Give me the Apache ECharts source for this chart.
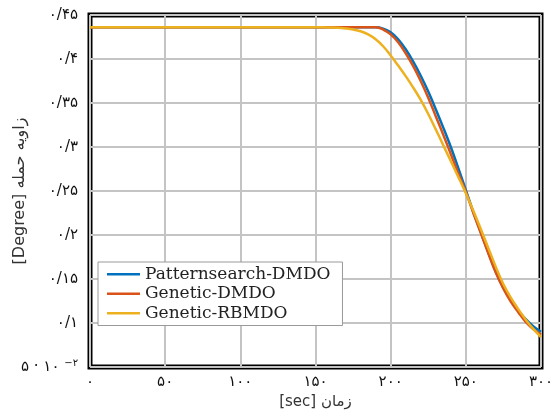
<!DOCTYPE html>
<html>
<head>
<meta charset="utf-8">
<script src="https://cdn.jsdelivr.net/npm/echarts@6/dist/echarts.min.js"></script>
<style>
  html, body { margin: 0; padding: 0; background: #fff; }
  #chart { width: 556px; height: 416px; }
</style>
</head>
<body>
<div id="chart"></div>
<script>
// Time samples [sec]
var times = [0, 5, 10, 15, 20, 25, 30, 35, 40, 45, 50, 55, 60, 65, 70, 75, 80, 85, 90, 95,
  100, 105, 110, 115, 120, 125, 130, 135, 140, 145, 150, 155, 160, 165, 170, 175, 180, 185, 190, 195,
  200, 205, 210, 215, 220, 225, 230, 235, 240, 245, 250, 255, 260, 265, 270, 275, 280, 285, 290, 295, 300];

// Angle of attack [Degree]
var patternsearchDMDO = [0.436, 0.436, 0.436, 0.436, 0.436, 0.436, 0.436, 0.436, 0.436, 0.436,
  0.436, 0.436, 0.436, 0.436, 0.436, 0.436, 0.436, 0.436, 0.436, 0.436,
  0.436, 0.436, 0.436, 0.436, 0.436, 0.436, 0.436, 0.436, 0.436, 0.436,
  0.436, 0.436, 0.436, 0.436, 0.436, 0.436, 0.436, 0.436, 0.436, 0.4345,
  0.4305, 0.4225, 0.411, 0.397, 0.381, 0.363, 0.343, 0.322, 0.300, 0.276,
  0.251, 0.226, 0.203, 0.180, 0.158, 0.140, 0.126, 0.114, 0.104, 0.096, 0.090];

var geneticDMDO = [0.436, 0.436, 0.436, 0.436, 0.436, 0.436, 0.436, 0.436, 0.436, 0.436,
  0.436, 0.436, 0.436, 0.436, 0.436, 0.436, 0.436, 0.436, 0.436, 0.436,
  0.436, 0.436, 0.436, 0.436, 0.436, 0.436, 0.436, 0.436, 0.436, 0.436,
  0.436, 0.436, 0.436, 0.436, 0.436, 0.436, 0.436, 0.436, 0.436, 0.4335,
  0.428, 0.419, 0.4065, 0.392, 0.375, 0.356, 0.335, 0.314, 0.292, 0.270,
  0.249, 0.225, 0.202, 0.179, 0.157, 0.139, 0.124, 0.112, 0.101, 0.093, 0.087];

var geneticRBMDO = [0.436, 0.436, 0.436, 0.436, 0.436, 0.436, 0.436, 0.436, 0.436, 0.436,
  0.436, 0.436, 0.436, 0.436, 0.436, 0.436, 0.436, 0.436, 0.436, 0.436,
  0.436, 0.436, 0.436, 0.436, 0.436, 0.436, 0.436, 0.436, 0.436, 0.436,
  0.436, 0.436, 0.4358, 0.4355, 0.4347, 0.4335, 0.4315, 0.428, 0.4225, 0.4145,
  0.404, 0.3925, 0.3805, 0.3675, 0.3535, 0.3375, 0.320, 0.302, 0.284, 0.266,
  0.2475, 0.2275, 0.2065, 0.185, 0.1635, 0.144, 0.1285, 0.1155, 0.1035, 0.093, 0.084];

var seriesNames = ['Patternsearch-DMDO', 'Genetic-DMDO', 'Genetic-RBMDO'];
var seriesColors = ['#0072BD', '#D95319', '#EDB120'];

// Axis tick labels (Persian digits)
var xTickLabels = ['۰', '۵۰', '۱۰۰', '۱۵۰', '۲۰۰', '۲۵۰', '۳۰۰'];
var yTickLabels = ['{b|۵ · ۱۰ }{s|−۲}', '۰/۱', '۰/۱۵', '۰/۲', '۰/۲۵', '۰/۳', '۰/۳۵', '۰/۴', '۰/۴۵'];

var xName = '[sec] زمان';
var yName = '[Degree] زاویه حمله';

function pairs(ys) {
  return times.map(function (t, i) { return [t, ys[i]]; });
}

var chart = echarts.init(document.getElementById('chart'), null, { renderer: 'canvas' });

var labelFont = 'DejaVu Sans';

chart.setOption({
  animation: false,
  backgroundColor: '#fff',
  grid: {
    left: 90, right: 15, top: 15, bottom: 49,
    containLabel: false, outerBoundsMode: 'none',
    show: true, borderColor: '#000', borderWidth: 5, backgroundColor: 'transparent'
  },
  xAxis: {
    type: 'value', min: 0, max: 300, interval: 50,
    axisLine: { show: false }, axisTick: { show: false },
    splitLine: { show: true, lineStyle: { color: '#c4c4c4', width: 2 } },
    axisLabel: {
      margin: 8, color: '#111', fontSize: 15, fontFamily: labelFont,
      formatter: function (v) { return xTickLabels[Math.round(v / 50)]; }
    },
    name: xName, nameLocation: 'middle', nameGap: 28, nameMoveOverlap: false,
    nameTextStyle: { color: '#333', fontSize: 15, fontFamily: labelFont }
  },
  yAxis: {
    type: 'value', min: 0.05, max: 0.45, interval: 0.05,
    axisLine: { show: false }, axisTick: { show: false },
    splitLine: { show: true, lineStyle: { color: '#c4c4c4', width: 2 } },
    axisLabel: {
      margin: 12, color: '#111', fontSize: 15, fontFamily: labelFont,
      formatter: function (v) { return yTickLabels[Math.round(v / 0.05) - 1]; },
      rich: {
        b: { fontSize: 15, fontFamily: labelFont, color: '#111' },
        s: { fontSize: 10, fontFamily: labelFont, color: '#111', verticalAlign: 'top', padding: [0, 0, 8, 0] }
      }
    },
    name: yName, nameLocation: 'middle', nameGap: 62, nameRotate: 90, nameMoveOverlap: false,
    nameTextStyle: { color: '#333', fontSize: 16, fontFamily: labelFont }
  },
  legend: {
    left: 98, top: 262, orient: 'vertical',
    data: seriesNames.map(function (n) { return { name: n, icon: 'rect' }; }),
    backgroundColor: '#fff', borderColor: '#9a9a9a', borderWidth: 1,
    padding: [3, 12, 3, 9], itemGap: 1, itemWidth: 33, itemHeight: 2.5,
    textStyle: { fontFamily: 'DejaVu Serif', fontSize: 17, color: '#222', lineHeight: 18.5 }
  },
  series: [patternsearchDMDO, geneticDMDO, geneticRBMDO].map(function (ys, i) {
    return {
      name: seriesNames[i], type: 'line', data: pairs(ys),
      showSymbol: false, symbol: 'none', smooth: 0.4,
      lineStyle: { color: seriesColors[i], width: 2.5 },
      itemStyle: { color: seriesColors[i] }
    };
  })
});
</script>
</body>
</html>
